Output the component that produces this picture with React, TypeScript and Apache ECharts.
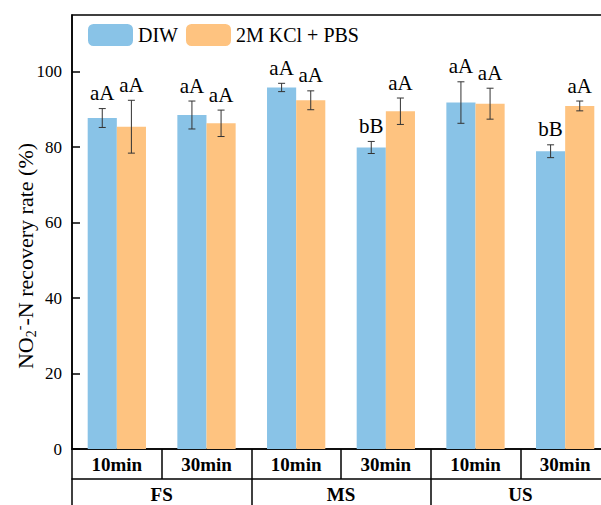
import React, { useEffect, useRef } from "react";
import * as echarts from "echarts";

const timeLabels = ["10min", "30min", "10min", "30min", "10min", "30min"];
const groupLabels = ["FS", "MS", "US"];
const seriesNames = ["DIW", "2M KCl + PBS"];
const diwValues = [87.7, 88.5, 95.8, 79.9, 91.8, 78.9];
const diwErrors = [2.5, 3.7, 1.1, 1.6, 5.5, 1.7];
const kclValues = [85.4, 86.3, 92.4, 89.5, 91.5, 90.9];
const kclErrors = [7.0, 3.5, 2.5, 3.5, 4.1, 1.3];
const diwLetters = ["aA", "aA", "aA", "bB", "aA", "bB"];
const kclLetters = ["aA", "aA", "aA", "aA", "aA", "aA"];
const yTicks = { min: 0, max: 115, interval: 20 };

const BLUE = "#89C3E7";
const ORANGE = "#FEC380";
const SERIF = "'Liberation Serif', 'Times New Roman', serif";
const CAT_GAP = 0.35;

function errorSeries(values: number[], errors: number[], letters: string[], side: number) {
  const data = values.map((v, i) => [i, v, errors[i]]);
  return {
    type: "custom",
    xAxisIndex: 0,
    yAxisIndex: 0,
    z: 5,
    silent: true,
    data,
    renderItem: (params: any, api: any) => {
      const idx = api.value(0);
      const val = api.value(1);
      const err = api.value(2);
      const band = api.size([1, 0])[0];
      const barW = (band * (1 - CAT_GAP)) / 2;
      const center = api.coord([idx, val]);
      const x = center[0] + (side * barW) / 2;
      const top = api.coord([idx, val + err])[1];
      const bot = api.coord([idx, val - err])[1];
      const cap = 3.5;
      const lineStyle = { stroke: "#333", lineWidth: 1 };
      return {
        type: "group",
        children: [
          { type: "line", shape: { x1: x, y1: top, x2: x, y2: bot }, style: lineStyle },
          { type: "line", shape: { x1: x - cap, y1: top, x2: x + cap, y2: top }, style: lineStyle },
          { type: "line", shape: { x1: x - cap, y1: bot, x2: x + cap, y2: bot }, style: lineStyle },
          {
            type: "text",
            x,
            y: top - 5,
            style: {
              text: letters[idx],
              fontFamily: SERIF,
              fontSize: 21,
              fill: "#000",
              align: "center",
              verticalAlign: "bottom",
            },
          },
        ],
      };
    },
  };
}

export default function App() {
  const ref = useRef<HTMLDivElement>(null);
  useEffect(() => {
    document.body.style.margin = "0";
    const chart = echarts.init(ref.current!, null, { renderer: "svg" });
    chart.setOption({
      animation: false,
      backgroundColor: "#fff",
      grid: {
        left: 72,
        top: 15,
        width: 538,
        height: 434,
        outerBoundsMode: "none",
        containLabel: false,
        show: true,
        borderColor: "#000",
        borderWidth: 1.5,
        backgroundColor: "transparent",
      },
      legend: {
        left: 88,
        top: 24,
        padding: 0,
        itemWidth: 45,
        itemHeight: 22,
        itemGap: 8,
        textStyle: { fontFamily: SERIF, fontSize: 20, color: "#000" },
        data: seriesNames,
      },
      xAxis: [
        {
          type: "category",
          data: timeLabels,
          position: "bottom",
          axisLine: { show: true, lineStyle: { color: "#000", width: 1.5 } },
          axisTick: { show: true, length: 30, interval: 0, lineStyle: { color: "#000", width: 1.5 } },
          axisLabel: {
            interval: 0,
            margin: 6,
            fontFamily: SERIF,
            fontWeight: "bold",
            fontSize: 19,
            color: "#000",
          },
        },
        {
          type: "category",
          data: groupLabels,
          position: "bottom",
          offset: 30,
          axisLine: { show: true, lineStyle: { color: "#000", width: 1.5 } },
          axisTick: { show: true, length: 40, interval: 0, lineStyle: { color: "#000", width: 1.5 } },
          axisLabel: {
            interval: 0,
            margin: 6,
            fontFamily: SERIF,
            fontWeight: "bold",
            fontSize: 19,
            color: "#000",
          },
        },
      ],
      yAxis: {
        type: "value",
        min: yTicks.min,
        max: yTicks.max,
        interval: yTicks.interval,
        splitLine: { show: false },
        axisLine: { show: true, lineStyle: { color: "#000", width: 1.5 } },
        axisTick: { show: true, inside: true, length: 8, lineStyle: { color: "#000", width: 1.5 } },
        axisLabel: {
          margin: 10,
          fontFamily: SERIF,
          fontSize: 17,
          color: "#000",
          showMaxLabel: false,
          formatter: (v: number) => (v % 20 === 0 && v <= 100 ? String(v) : ""),
        },
      },
      graphic: [
        {
          type: "text",
          x: 25,
          y: 256,
          rotation: Math.PI / 2,
          style: {
            text: "NO{sub|2}{sup|-}-N recovery rate (%)",
            fontFamily: SERIF,
            fontSize: 22,
            fill: "#000",
            align: "center",
            verticalAlign: "middle",
            rich: {
              sub: { fontFamily: SERIF, fontSize: 14, verticalAlign: "bottom", lineHeight: 26, padding: [8, 0, 0, 0] },
              sup: { fontFamily: SERIF, fontSize: 14, verticalAlign: "top", lineHeight: 26 },
            },
          },
        },
      ],
      series: [
        {
          name: seriesNames[0],
          type: "bar",
          xAxisIndex: 0,
          data: diwValues,
          barGap: "0%",
          barCategoryGap: CAT_GAP * 100 + "%",
          itemStyle: { color: BLUE },
        },
        {
          name: seriesNames[1],
          type: "bar",
          xAxisIndex: 0,
          data: kclValues,
          barGap: "0%",
          barCategoryGap: CAT_GAP * 100 + "%",
          itemStyle: { color: ORANGE },
        },
        errorSeries(diwValues, diwErrors, diwLetters, -1),
        errorSeries(kclValues, kclErrors, kclLetters, 1),
      ],
    });
    return () => chart.dispose();
  }, []);
  return <div ref={ref} style={{ width: 601, height: 505 }} />;
}
